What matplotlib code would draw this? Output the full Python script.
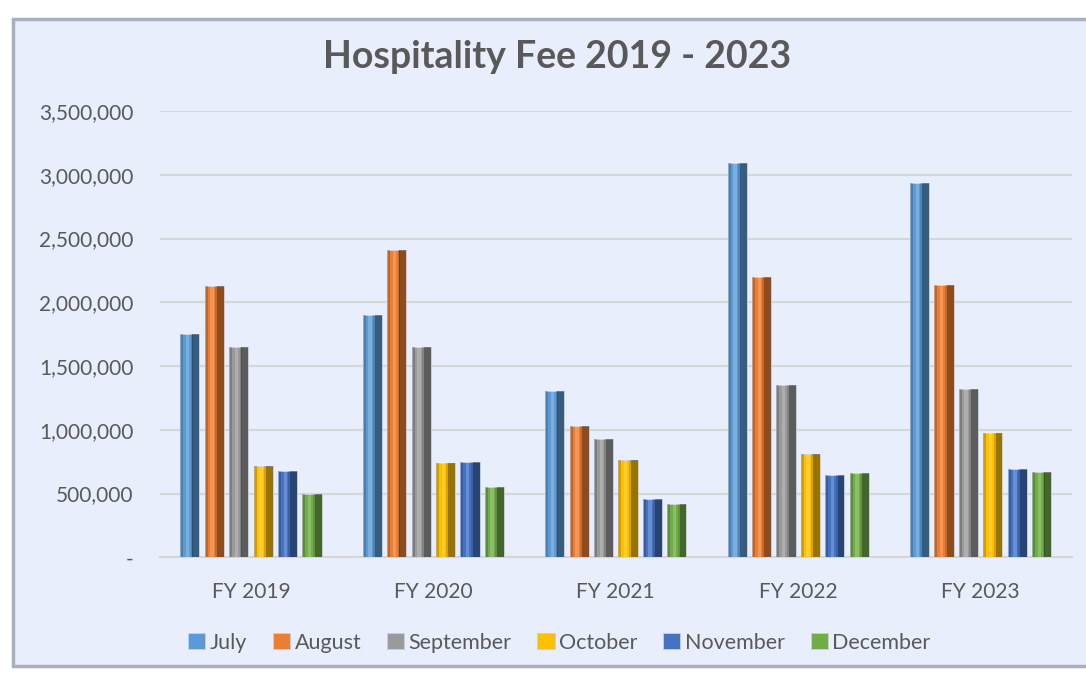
import matplotlib.pyplot as plt
import matplotlib.patches as patches
import numpy as np

years = ["FY 2019", "FY 2020", "FY 2021", "FY 2022", "FY 2023"]
months = ["July", "August", "September", "October", "November", "December"]

july = [1750000, 1897000, 1303000, 3090000, 2938000]
august = [2127000, 2409000, 1028000, 2200000, 2132000]
september = [1648000, 1646000, 931000, 1350000, 1318000]
october = [714000, 740000, 761000, 811000, 971000]
november = [675000, 748000, 460000, 644000, 691000]
december = [494000, 552000, 421000, 657000, 665000]

series = [july, august, september, october, november, december]
colors = ["#5B9BD5", "#ED7D31", "#9A9A9A", "#FFC000", "#4472C4", "#70AD47"]

y_ticks = [0, 500000, 1000000, 1500000, 2000000, 2500000, 3000000, 3500000]
y_labels = ["-", "500,000", "1,000,000", "1,500,000", "2,000,000",
            "2,500,000", "3,000,000", "3,500,000"]

FONT = "Lato"
TEXT = "#595959"
BG = "#E8EEFC"

fig = plt.figure(figsize=(10.86, 6.73), dpi=100)
fig.patch.set_facecolor("white")

# chart frame with a bevelled look
frame = patches.Rectangle((0.012, 0.01), 0.99, 0.962, transform=fig.transFigure,
                          facecolor=BG, edgecolor="#A8B0C0", linewidth=2.5, zorder=-10)
fig.patches.append(frame)

ax = fig.add_axes([0.147, 0.172, 0.840, 0.663])
ax.set_facecolor(BG)

x = np.arange(len(years))
slot = 0.134
bw = 0.105

for i, (vals, col) in enumerate(zip(series, colors)):
    pos = x + (i - 2.5) * slot
    ax.bar(pos, vals, width=bw, color=col, edgecolor="#C8D0DC", linewidth=0.6,
           label=months[i], zorder=3)
    # shading to fake the bevel: dark right side, light centre stripe, dark left edge
    ax.bar(pos + bw * 0.32, vals, width=bw * 0.36, color="black", alpha=0.4,
           linewidth=0, zorder=4)
    ax.bar(pos + bw * 0.1, vals, width=bw * 0.1, color="black", alpha=0.15,
           linewidth=0, zorder=4)
    ax.bar(pos - bw * 0.12, vals, width=bw * 0.18, color="white", alpha=0.2,
           linewidth=0, zorder=4)
    ax.bar(pos - bw * 0.42, vals, width=bw * 0.16, color="black", alpha=0.18,
           linewidth=0, zorder=4)

ax.set_xlim(-0.5, 4.5)
ax.set_ylim(0, 3500000)
ax.set_yticks(y_ticks)
ax.set_yticklabels(y_labels, fontsize=15, color=TEXT, fontfamily=FONT)
ax.set_xticks(x)
ax.set_xticklabels(years, fontsize=15, color=TEXT, fontfamily=FONT)
ax.tick_params(axis="both", length=0)
ax.tick_params(axis="y", pad=19)
ax.tick_params(axis="x", pad=18)
ax.yaxis.grid(True, color="#D6D6D6", linewidth=1.5, zorder=0)
ax.set_axisbelow(True)
for s in ["top", "right", "left"]:
    ax.spines[s].set_visible(False)
ax.spines["bottom"].set_color("#D6D6D6")
ax.spines["bottom"].set_linewidth(1.5)

fig.text(0.513, 0.916, "Hospitality Fee 2019 - 2023", ha="center", va="center",
         fontsize=27, fontweight="bold", color=TEXT, fontfamily=FONT)

leg = fig.legend(loc="center", bbox_to_anchor=(0.515, 0.045), ncol=6, frameon=False,
                 prop={"family": FONT, "size": 15.5}, handlelength=0.8, handleheight=0.8,
                 handletextpad=0.2, columnspacing=1.2)
for t in leg.get_texts():
    t.set_color(TEXT)

fig.savefig("out.png", dpi=100, facecolor=fig.get_facecolor())
